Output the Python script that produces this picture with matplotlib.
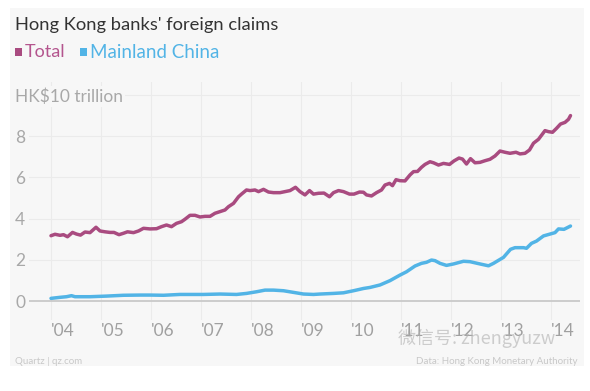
import matplotlib as mpl
import matplotlib.pyplot as plt
from matplotlib.patches import Rectangle

# decimal years (monthly-ish samples)
total_years = [2004.00, 2004.08, 2004.18, 2004.25, 2004.33, 2004.43, 2004.51, 2004.59,
               2004.68, 2004.78, 2004.90, 2004.98, 2005.08, 2005.18, 2005.26, 2005.36,
               2005.45, 2005.53, 2005.65, 2005.75, 2005.85, 2005.98, 2006.11, 2006.21,
               2006.31, 2006.41, 2006.51, 2006.61, 2006.68, 2006.78, 2006.88, 2006.98,
               2007.08, 2007.18, 2007.28, 2007.38, 2007.48, 2007.55, 2007.65, 2007.75,
               2007.81, 2007.91, 2007.98, 2008.08, 2008.15, 2008.25, 2008.35, 2008.45,
               2008.58, 2008.68, 2008.78, 2008.89, 2008.98, 2009.08, 2009.17, 2009.25,
               2009.35, 2009.46, 2009.57, 2009.65, 2009.75, 2009.85, 2009.97, 2010.06,
               2010.17, 2010.25, 2010.31, 2010.41, 2010.51, 2010.61, 2010.68, 2010.77,
               2010.83, 2010.90, 2010.98, 2011.08, 2011.18, 2011.25, 2011.33, 2011.41,
               2011.48, 2011.58, 2011.65, 2011.75, 2011.85, 2011.97, 2012.06, 2012.16,
               2012.23, 2012.31, 2012.39, 2012.48, 2012.58, 2012.68, 2012.78, 2012.88,
               2012.98, 2013.08, 2013.18, 2013.30, 2013.38, 2013.48, 2013.57, 2013.65,
               2013.75, 2013.88, 2013.95, 2014.03, 2014.11, 2014.19, 2014.28, 2014.35,
               2014.39]
total_vals = [3.17, 3.24, 3.19, 3.22, 3.12, 3.33, 3.25, 3.20,
              3.35, 3.32, 3.58, 3.40, 3.36, 3.33, 3.33, 3.22,
              3.29, 3.36, 3.32, 3.40, 3.53, 3.50, 3.51, 3.61,
              3.69, 3.61, 3.77, 3.85, 3.97, 4.16, 4.16, 4.08,
              4.11, 4.11, 4.26, 4.34, 4.42, 4.58, 4.74, 5.06,
              5.19, 5.39, 5.36, 5.39, 5.31, 5.42, 5.29, 5.26,
              5.26, 5.31, 5.36, 5.52, 5.31, 5.15, 5.36, 5.19,
              5.23, 5.24, 5.06, 5.26, 5.36, 5.31, 5.19, 5.19,
              5.29, 5.28, 5.15, 5.10, 5.26, 5.39, 5.63, 5.71,
              5.60, 5.89, 5.84, 5.83, 6.12, 6.28, 6.29, 6.49,
              6.63, 6.76, 6.71, 6.60, 6.68, 6.63, 6.80, 6.94,
              6.89, 6.65, 6.91, 6.71, 6.73, 6.81, 6.88, 7.04,
              7.28, 7.22, 7.17, 7.22, 7.14, 7.17, 7.33, 7.66,
              7.85, 8.27, 8.22, 8.19, 8.38, 8.59, 8.67, 8.82,
              9.00]

china_years = [2004.00, 2004.18, 2004.31, 2004.41, 2004.48, 2004.78, 2005.11, 2005.45,
               2005.78, 2005.98, 2006.25, 2006.58, 2006.78, 2007.05, 2007.38, 2007.71,
               2007.91, 2008.11, 2008.28, 2008.45, 2008.65, 2008.85, 2009.05, 2009.25,
               2009.38, 2009.65, 2009.85, 2010.05, 2010.25, 2010.38, 2010.58, 2010.78,
               2010.98, 2011.11, 2011.28, 2011.41, 2011.51, 2011.61, 2011.68, 2011.78,
               2011.91, 2012.05, 2012.25, 2012.38, 2012.58, 2012.75, 2012.85, 2013.05,
               2013.19, 2013.28, 2013.45, 2013.51, 2013.61, 2013.71, 2013.85, 2013.98,
               2014.08, 2014.15, 2014.26, 2014.39]
china_vals = [0.13, 0.18, 0.21, 0.26, 0.21, 0.21, 0.24, 0.28,
              0.29, 0.29, 0.28, 0.32, 0.32, 0.32, 0.34, 0.32,
              0.37, 0.45, 0.53, 0.53, 0.50, 0.42, 0.34, 0.32,
              0.34, 0.37, 0.40, 0.50, 0.61, 0.66, 0.78, 0.99,
              1.26, 1.42, 1.70, 1.83, 1.88, 1.99, 1.96, 1.83,
              1.73, 1.80, 1.93, 1.91, 1.80, 1.71, 1.83, 2.12,
              2.51, 2.59, 2.59, 2.56, 2.80, 2.91, 3.16, 3.25,
              3.32, 3.50, 3.48, 3.64]

x_ticks = list(range(2004, 2015))
x_labels = ["'04", "'05", "'06", "'07", "'08", "'09", "'10", "'11", "'12", "'13", "'14"]
y_ticks = [0, 2, 4, 6, 8, 10]
y_labels = ['0', '2', '4', '6', '8', 'HK$10 trillion']

PURPLE = '#a94b80'
BLUE = '#52b4e6'
BG = '#f7f7f7'
W, H = 590, 391

mpl.rcParams['font.family'] = ['Lato', 'DejaVu Sans']


def fx(px):
    return px / W


def fy(py):
    return 1 - py / H


fig = plt.figure(figsize=(5.9, 3.91), dpi=100)
fig.patch.set_facecolor('white')
fig.patches.append(Rectangle((fx(10), fy(366)), fx(584) - fx(10), fy(8) - fy(366),
                             transform=fig.transFigure, facecolor=BG,
                             edgecolor='none', zorder=-10))

ax = fig.add_axes([fx(29), fy(320), fx(580) - fx(29), fy(82) - fy(320)])
ax.set_zorder(1)
ax.set_facecolor('none')
for s in ax.spines.values():
    s.set_visible(False)

ax.set_xlim(2003.56, 2014.58)
ax.set_ylim(-0.92, 10.63)

for yr in x_ticks:
    ax.axvline(yr, color='#ebebeb', lw=0.8, zorder=1)
for v in y_ticks[1:]:
    ax.axhline(v, color='#ebebeb', lw=0.8, zorder=1)
ax.axhline(0, color='#cccccc', lw=1.4, zorder=2)

ax.plot(china_years, china_vals, color=BLUE, lw=2.5, zorder=3,
        solid_joinstyle='round', solid_capstyle='round')
ax.plot(total_years, total_vals, color=PURPLE, lw=2.5, zorder=4,
        solid_joinstyle='round', solid_capstyle='round')

ax.set_xticks(x_ticks)
ax.set_xticklabels(x_labels)
ax.set_yticks(y_ticks)
ax.set_yticklabels(y_labels)
ax.tick_params(axis='both', length=0, colors='#a0a0a0', labelsize=12.5)
ax.tick_params(axis='y', pad=10)
ax.tick_params(axis='x', pad=2)
for lab in ax.get_xticklabels():
    lab.set_horizontalalignment('left')
for lab in ax.get_yticklabels():
    lab.set_horizontalalignment('left')
    lab.set_color('#a8a8a8')
hk = ax.get_yticklabels()[-1]
hk.set_fontsize(12.5)
hk.set_bbox(dict(facecolor=BG, edgecolor='none', pad=1.5))

# title and legend
fig.text(fx(15), fy(25), "Hong Kong banks' foreign claims", fontsize=13.2,
         color='#333333', va='center', ha='left')
fig.patches.append(Rectangle((fx(15), fy(56)), fx(7), fy(0) - fy(8),
                             transform=fig.transFigure, facecolor=PURPLE, edgecolor='none'))
fig.text(fx(25), fy(52), 'Total', fontsize=13, color='#b4558e', va='center', ha='left')
fig.patches.append(Rectangle((fx(80), fy(56)), fx(7), fy(0) - fy(8),
                             transform=fig.transFigure, facecolor=BLUE, edgecolor='none'))
fig.text(fx(90), fy(52), 'Mainland China', fontsize=13.5, color=BLUE, va='center', ha='left')

# footer
fig.text(fx(15), fy(361), 'Quartz | qz.com', fontsize=7, color='#c8c8c8',
         va='center', ha='left')
fig.text(fx(578), fy(361), 'Data: Hong Kong Monetary Authority', fontsize=7,
         color='#c8c8c8', va='center', ha='right')

# watermark
fig.text(fx(398), fy(338), '微信号: zhengyuzw', fontsize=13, color='#b0b0b0', alpha=0.6,
         va='center', ha='left', family=['Noto Sans CJK SC', 'DejaVu Sans'], zorder=5)

fig.savefig('out.png', dpi=100, facecolor='white')
